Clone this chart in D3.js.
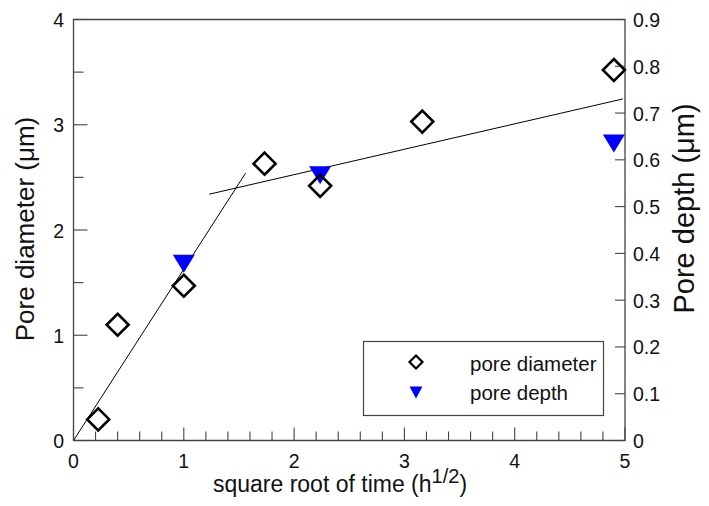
<!DOCTYPE html>
<html>
<head>
<meta charset="utf-8">
<script src="https://cdn.jsdelivr.net/npm/d3@7"></script>
<style>
  body { margin: 0; background: #fff; }
  svg { font-family: "Liberation Sans", Arial, sans-serif; }
</style>
</head>
<body>
<svg id="chart" width="709" height="506"></svg>
<script>
// data
const diamX = [0.224, 0.4, 1.0, 1.732, 2.236, 3.162, 4.899];
const diamY = [0.2, 1.1, 1.47, 2.63, 2.42, 3.03, 3.52];
const depthX = [1.0, 2.236, 4.899];
const depthY = [0.378, 0.567, 0.635];
// fitted lines (left axis units)
const line1 = [[0, 0], [1.56, 2.54]];
const line2 = [[1.23, 2.34], [4.98, 3.245]];
const xTicks = [0, 1, 2, 3, 4, 5];
const yTicks = [0, 1, 2, 3, 4];
const y2Ticks = [0, 0.1, 0.2, 0.3, 0.4, 0.5, 0.6, 0.7, 0.8, 0.9];

const width = 709, height = 506;
const margin = { top: 19.5, right: 84, bottom: 65.5, left: 73.5 };

const svg = d3.select("#chart");

const x = d3.scaleLinear().domain([0, 5]).range([margin.left, width - margin.right]);
const y = d3.scaleLinear().domain([0, 4]).range([height - margin.bottom, margin.top]);
const y2 = d3.scaleLinear().domain([0, 0.9]).range([height - margin.bottom, margin.top]);

const x0 = x(0), x1 = x(5), yb = y(0), yt = y(4);
const axisCol = "#444";
const tickFont = 19.5;

// frame: top line + axes
svg.append("path")
    .attr("d", `M${x0},${yb}V${yt}H${x1}V${yb}H${x0}`)
    .attr("fill", "none").attr("stroke", axisCol).attr("stroke-width", 1.3);

// x axis ticks (inward)
const xMinor = d3.range(0, 5.001, 0.2);
svg.append("g").selectAll("line").data(xMinor).join("line")
    .attr("x1", d => x(d)).attr("x2", d => x(d))
    .attr("y1", yb).attr("y2", d => yb - (Math.abs(d - Math.round(d)) < 1e-6 ? 13 : 9))
    .attr("stroke", axisCol).attr("stroke-width", 1.1);
svg.append("g").selectAll("text").data(xTicks).join("text")
    .attr("x", d => x(d)).attr("y", yb + 27)
    .attr("text-anchor", "middle").attr("font-size", tickFont).attr("fill", "#111")
    .text(d => d);

// left axis ticks
const yMinor = d3.range(0, 4.001, 0.5);
svg.append("g").selectAll("line").data(yMinor).join("line")
    .attr("x1", x0).attr("x2", d => x0 + (d % 1 === 0 ? 14 : 10))
    .attr("y1", d => y(d)).attr("y2", d => y(d))
    .attr("stroke", axisCol).attr("stroke-width", 1.1);
svg.append("g").selectAll("text").data(yTicks).join("text")
    .attr("x", x0 - 9.5).attr("y", d => y(d) + 7.5)
    .attr("text-anchor", "end").attr("font-size", tickFont).attr("fill", "#111")
    .text(d => d);

// right axis ticks
svg.append("g").selectAll("line").data(y2Ticks).join("line")
    .attr("x1", x1).attr("x2", x1 - 10)
    .attr("y1", d => y2(d)).attr("y2", d => y2(d))
    .attr("stroke", axisCol).attr("stroke-width", 1.1);
svg.append("g").selectAll("text").data(y2Ticks).join("text")
    .attr("x", x1 + 8).attr("y", d => y2(d) + 7.5)
    .attr("text-anchor", "start").attr("font-size", tickFont).attr("fill", "#111")
    .text(d => d);

// axis titles
svg.append("text")
    .attr("transform", "translate(33.5,229) rotate(-90)")
    .attr("text-anchor", "middle").attr("font-size", 26).attr("fill", "#111")
    .text("Pore diameter (\u03bcm)");
svg.append("text")
    .attr("transform", "translate(694,208.5) rotate(-90)")
    .attr("text-anchor", "middle").attr("font-size", 29).attr("fill", "#111")
    .text("Pore depth (\u03bcm)");
const xt = svg.append("text")
    .attr("x", 340).attr("y", 492)
    .attr("text-anchor", "middle").attr("font-size", 23).attr("fill", "#111");
xt.append("tspan").text("square root of time (h");
xt.append("tspan").attr("dy", -9).attr("font-size", 20).text("1/2");
xt.append("tspan").attr("dy", 9).text(")");

// fitted lines
const lineGen = d3.line().x(d => x(d[0])).y(d => y(d[1]));
svg.append("g").selectAll("path").data([line1, line2]).join("path")
    .attr("d", lineGen).attr("fill", "none")
    .attr("stroke", "#000").attr("stroke-width", 1);

// symbols
const diamond = s => `M0,${-s}L${s},0L0,${s}L${-s},0Z`;
const tri = (w, h) => `M${-w / 2},${-h / 2}L${w / 2},${-h / 2}L0,${h / 2}Z`;

svg.append("g").selectAll("path").data(depthX.map((d, i) => [d, depthY[i]])).join("path")
    .attr("transform", d => `translate(${x(d[0])},${y2(d[1])})`)
    .attr("d", tri(22, 18)).attr("fill", "#0000ff");

svg.append("g").selectAll("path").data(diamX.map((d, i) => [d, diamY[i]])).join("path")
    .attr("transform", d => `translate(${x(d[0])},${y(d[1])})`)
    .attr("d", diamond(11)).attr("fill", "none")
    .attr("stroke", "#000").attr("stroke-width", 2.6);

// legend
const lg = svg.append("g").attr("transform", "translate(363.5,341.5)");
lg.append("rect").attr("width", 240).attr("height", 74)
    .attr("fill", "#fff").attr("stroke", "#444").attr("stroke-width", 1.2);
lg.append("path").attr("transform", "translate(52.5,20.5)").attr("d", diamond(6.5))
    .attr("fill", "none").attr("stroke", "#000").attr("stroke-width", 2.2);
lg.append("path").attr("transform", "translate(52.5,51)").attr("d", tri(13, 12))
    .attr("fill", "#0000ff");
lg.append("text").attr("x", 106.5).attr("y", 29.5).attr("font-size", 20.5).attr("fill", "#111").text("pore diameter");
lg.append("text").attr("x", 106.5).attr("y", 58.5).attr("font-size", 20.5).attr("fill", "#111").text("pore depth");
</script>
</body>
</html>
